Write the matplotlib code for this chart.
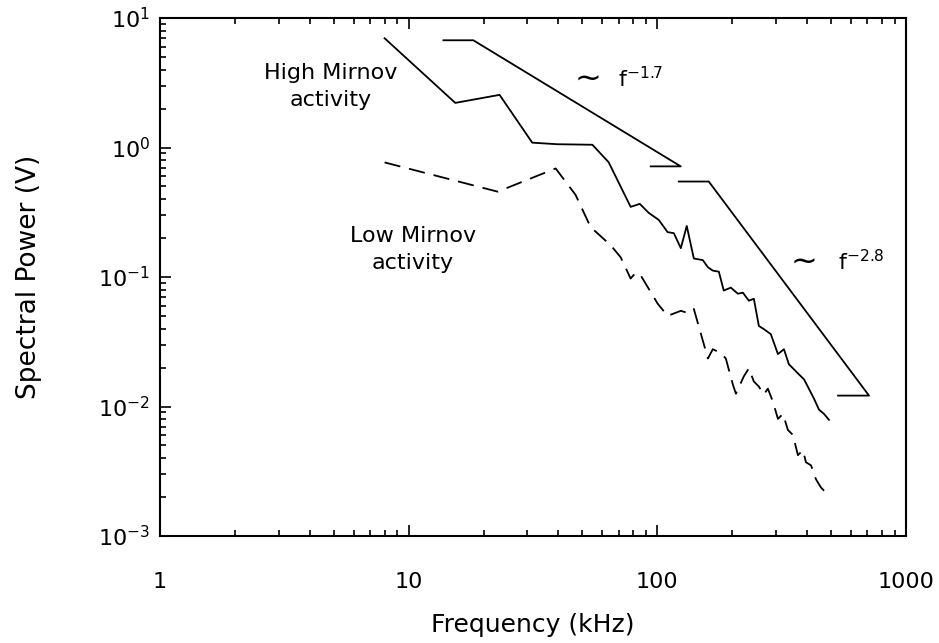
import numpy as np
from matplotlib import pyplot as plt
from matplotlib import ticker as mticker

# High Mirnov activity (solid)
f_high = [8, 15.4, 23.2, 31.4, 39.6, 54.8, 63.7, 78.1, 85, 92.3, 101.3, 110, 116.5,
          124.3, 131.3, 140.2, 152.4, 159.7, 167.2, 176.7, 185, 197.5, 210.8, 220.8,
          233.4, 244.4, 256, 268, 286, 305.5, 323, 338, 354, 371, 389, 407, 426.5,
          447, 468, 490]
p_high = [6.98, 2.21, 2.55, 1.09, 1.06, 1.05, 0.77, 0.348, 0.367, 0.313, 0.276, 0.222,
          0.218, 0.167, 0.248, 0.139, 0.135, 0.119, 0.112, 0.110, 0.0786, 0.0828,
          0.0743, 0.0757, 0.0656, 0.0679, 0.0419, 0.0396, 0.0362, 0.0254, 0.0277,
          0.0212, 0.0194, 0.0177, 0.0162, 0.0137, 0.0115, 0.00944, 0.00877, 0.00789]

# Low Mirnov activity (dashed)
f_low = [8, 22.8, 39, 46.9, 53.9, 64.9, 71.2, 78.1, 81.9, 85.7, 100.4, 110, 124.3,
         132.5, 140.2, 159.7, 167.2, 180, 188.5, 201.2, 207, 222.8, 233.4, 244.4,
         256, 268, 278.3, 291.5, 305.5, 320, 335, 351, 367.5, 385, 396, 415, 434.5,
         455, 476.5, 490]
p_low = [0.767, 0.456, 0.689, 0.431, 0.243, 0.176, 0.142, 0.0973, 0.108, 0.103,
         0.0621, 0.0501, 0.0548, 0.0528, 0.0567, 0.0235, 0.0277, 0.0258, 0.0235,
         0.0148, 0.01256, 0.0171, 0.0197, 0.0156, 0.01426, 0.01237, 0.01374, 0.0109,
         0.00802, 0.00877, 0.00659, 0.00603, 0.00421, 0.0046, 0.00371, 0.00351,
         0.00274, 0.00237, 0.00216, 0.00205]

# Guide lines ~ f^-1.7 and ~ f^-2.8
f_g17 = [13.8, 18.2, 124.2, 94.1]
p_g17 = [6.73, 6.73, 0.715, 0.715]
f_g28 = [122, 161, 710, 533]
p_g28 = [0.546, 0.546, 0.01214, 0.01214]

fig = plt.figure(figsize=(9.39, 6.43), dpi=100)
ax = fig.add_axes([160/939, 107/643, 746/939, 518/643])

ax.plot(f_high, p_high, 'k-', lw=1.3)
ax.plot(f_low, p_low, 'k', lw=1.3, linestyle=(0, (9, 5)))
ax.plot(f_g17, p_g17, 'k-', lw=1.3)
ax.plot(f_g28, p_g28, 'k-', lw=1.3)

ax.set_xscale('log')
ax.set_yscale('log')
ax.set_xlim(1, 1000)
ax.set_ylim(1e-3, 1e1)

# Textos
ax.text(4.85, 2.95, 'High Mirnov\nactivity', ha='center', va='center',
        fontsize=16, linespacing=1.45)
ax.text(10.4, 0.162, 'Low Mirnov\nactivity', ha='center', va='center',
        fontsize=16, linespacing=1.45)
# ~ f^-1.7
ax.text(52.5, 3.3, '~', ha='center', va='center', fontsize=23)
ax.text(86, 3.4, 'f$^{-1.7}$', ha='center', va='center', fontsize=16)
# ~ f^-2.8
ax.text(389, 0.128, '~', ha='center', va='center', fontsize=23)
ax.text(659, 0.132, 'f$^{-2.8}$', ha='center', va='center', fontsize=16)

ax.set_xlabel('Frequency (kHz)', fontsize=18)
ax.set_ylabel('Spectral Power (V)', fontsize=19)
ax.xaxis.set_label_coords(0.5, -0.148)
ax.yaxis.set_label_coords(-0.158, 0.5)

ax.xaxis.set_major_formatter(mticker.FuncFormatter(lambda v, p: '%g' % v))
ax.xaxis.set_minor_formatter(mticker.NullFormatter())
ax.yaxis.set_minor_locator(mticker.LogLocator(base=10, subs=np.arange(2, 10)))
ax.yaxis.set_minor_formatter(mticker.NullFormatter())

ax.tick_params(which='both', direction='in', top=True, right=False, width=1.2)
ax.tick_params(which='major', length=8, labelsize=16)
ax.tick_params(which='minor', length=4.5)
ax.tick_params(axis='x', which='major', pad=26)
ax.tick_params(axis='y', which='major', pad=7)
for s in ax.spines.values():
    s.set_linewidth(1.5)

plt.savefig('out.png', dpi=100)
